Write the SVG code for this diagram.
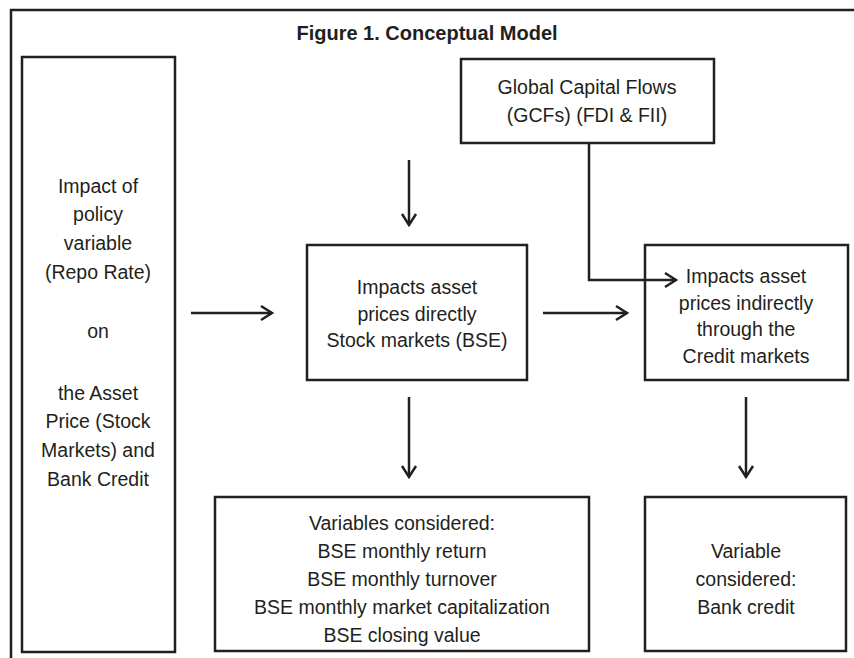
<svg xmlns="http://www.w3.org/2000/svg" width="854" height="658" viewBox="0 0 854 658">
  <defs>
    <marker id="arr" markerUnits="userSpaceOnUse" markerWidth="20" markerHeight="20" refX="12" refY="8" orient="auto" viewBox="0 0 20 16">
      <path d="M1,1 L12,8 L1,15" fill="none" stroke="#231f20" stroke-width="2.5"/>
    </marker>
  </defs>
  <style>
    .box { fill: #ffffff; stroke: #231f20; stroke-width: 2.5; }
    .t { font-family: "Liberation Sans", Arial, sans-serif; font-size: 19.5px; fill: #231f20; text-anchor: middle; }
    .title { font-family: "Liberation Sans", Arial, sans-serif; font-size: 20px; font-weight: bold; fill: #231f20; text-anchor: middle; }
    .c { fill: none; stroke: #231f20; stroke-width: 2.5; }
  </style>
  <rect x="0" y="0" width="854" height="658" fill="#ffffff"/>
  <rect x="11" y="10" width="860" height="670" fill="none" stroke="#231f20" stroke-width="2.5"/>
  <text class="title" x="427" y="40">Figure 1. Conceptual Model</text>

  <g id="policy">
    <rect class="box" x="22" y="57" width="153" height="595"/>
    <text class="t" x="98" y="193">Impact of</text>
    <text class="t" x="98" y="221">policy</text>
    <text class="t" x="98" y="250">variable</text>
    <text class="t" x="98" y="279">(Repo Rate)</text>
    <text class="t" x="98" y="338">on</text>
    <text class="t" x="98" y="400">the Asset</text>
    <text class="t" x="98" y="428">Price (Stock</text>
    <text class="t" x="98" y="457">Markets) and</text>
    <text class="t" x="98" y="486">Bank Credit</text>
  </g>

  <g id="gcf">
    <rect class="box" x="461" y="59" width="253" height="84"/>
    <text class="t" x="587" y="94">Global Capital Flows</text>
    <text class="t" x="587" y="122">(GCFs) (FDI &amp; FII)</text>
  </g>

  <g id="direct">
    <rect class="box" x="307" y="245" width="220" height="135"/>
    <text class="t" x="417" y="294">Impacts asset</text>
    <text class="t" x="417" y="321">prices directly</text>
    <text class="t" x="417" y="347">Stock markets (BSE)</text>
  </g>

  <g id="indirect">
    <rect class="box" x="645" y="245" width="203" height="135"/>
    <text class="t" x="746" y="283">Impacts asset</text>
    <text class="t" x="746" y="310">prices indirectly</text>
    <text class="t" x="746" y="336">through the</text>
    <text class="t" x="746" y="363">Credit markets</text>
  </g>

  <g id="stockvars">
    <rect class="box" x="215" y="497" width="374" height="154"/>
    <text class="t" x="402" y="530">Variables considered:</text>
    <text class="t" x="402" y="558">BSE monthly return</text>
    <text class="t" x="402" y="586">BSE monthly turnover</text>
    <text class="t" x="402" y="614">BSE monthly market capitalization</text>
    <text class="t" x="402" y="642">BSE closing value</text>
  </g>

  <g id="creditvars">
    <rect class="box" x="645" y="497" width="201" height="154"/>
    <text class="t" x="746" y="558">Variable</text>
    <text class="t" x="746" y="586">considered:</text>
    <text class="t" x="746" y="614">Bank credit</text>
  </g>

  <g id="connectors">
    <path class="c" d="M191,313 H272" marker-end="url(#arr)"/>
    <path class="c" d="M543,313 H627" marker-end="url(#arr)"/>
    <path class="c" d="M409,160 V225" marker-end="url(#arr)"/>
    <path class="c" d="M589,143 V280 H676" marker-end="url(#arr)"/>
    <path class="c" d="M409,397 V477" marker-end="url(#arr)"/>
    <path class="c" d="M746,397 V477" marker-end="url(#arr)"/>
  </g>
</svg>
